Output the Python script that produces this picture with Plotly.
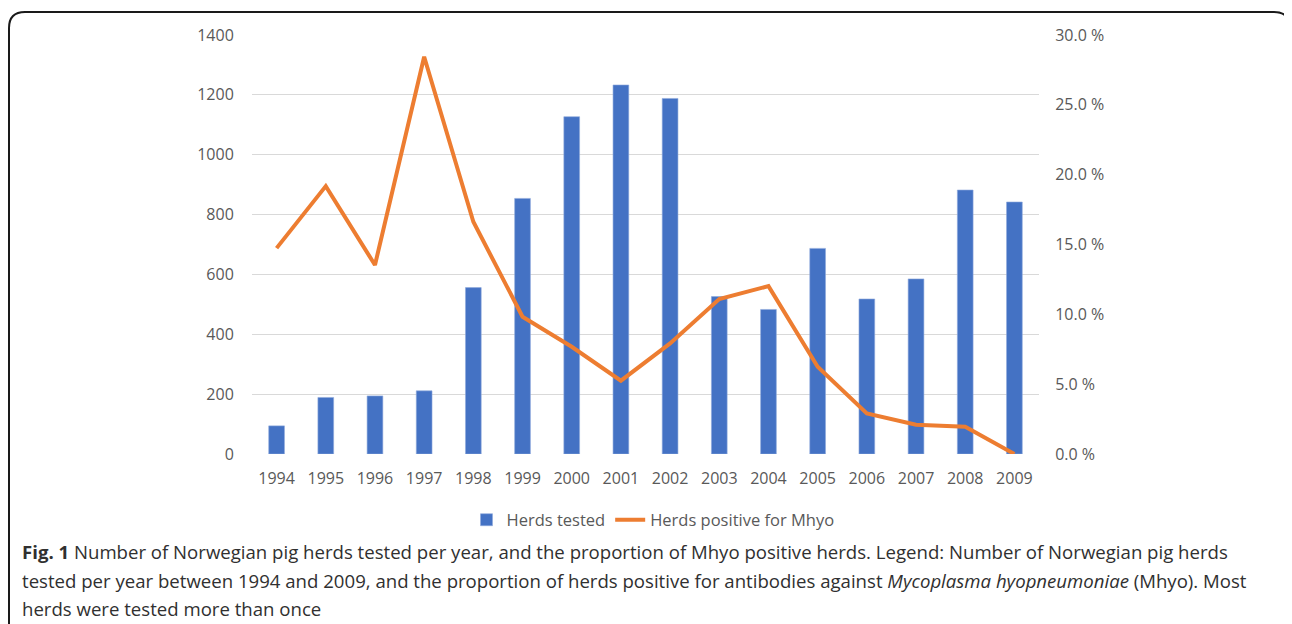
import plotly.graph_objects as go

years = ["1994", "1995", "1996", "1997", "1998", "1999", "2000", "2001",
         "2002", "2003", "2004", "2005", "2006", "2007", "2008", "2009"]
herds_tested = [94, 189, 194, 211, 556, 854, 1127, 1233,
                1188, 526, 483, 687, 518, 585, 882, 842]
pct_positive = [0.1474, 0.1918, 0.1353, 0.2844, 0.1663, 0.0983, 0.0768, 0.0525,
                0.0792, 0.1110, 0.1202, 0.0625, 0.0290, 0.0210, 0.0195, 0.0]
left_ticks = [0, 200, 400, 600, 800, 1000, 1200, 1400]
right_ticks = [0, 0.05, 0.10, 0.15, 0.20, 0.25, 0.30]
right_labels = ["0.0 %", "5.0 %", "10.0 %", "15.0 %", "20.0 %", "25.0 %", "30.0 %"]
caption_lines = [
    "<b>Fig. 1</b> Number of Norwegian pig herds tested per year, and the proportion of Mhyo positive herds. Legend: Number of Norwegian pig herds",
    "tested per year between 1994 and 2009, and the proportion of herds positive for antibodies against <i>Mycoplasma hyopneumoniae</i> (Mhyo). Most",
    "herds were tested more than once",
]

OFF = 8  # page body margin
W, H = 1292 - OFF, 624 - OFF
ML, MT = 252 - OFF, 35 - OFF
PR, PB = 1039 - OFF, 454 - OFF
MR, MB = W - PR, H - PB
PW, PH = PR - ML, PB - MT


def px(x):
    return (x - OFF - ML) / PW


def py(y):
    return (PB - (y - OFF)) / PH


fig = go.Figure()
fig.add_trace(go.Bar(x=years, y=herds_tested, name="Herds tested",
                     marker=dict(color="#4472C4", line=dict(width=0.6, color="#8EA9DB"))))
fig.add_trace(go.Scatter(x=years, y=pct_positive, name="Herds positive for Mhyo",
                         yaxis="y2", mode="lines",
                         line=dict(color="#ED7D31", width=4)))

# rounded frame
x0, x1, y0, y1, r = 9, 1290, 12, 660, 16
path = (f"M {px(x0)},{py(y0 + r)} "
        f"Q {px(x0)},{py(y0)} {px(x0 + r)},{py(y0)} "
        f"L {px(x1 - r)},{py(y0)} "
        f"Q {px(x1)},{py(y0)} {px(x1)},{py(y0 + r)} "
        f"L {px(x1)},{py(y1)} L {px(x0)},{py(y1)} Z")
shapes = [dict(type="path", xref="paper", yref="paper", path=path,
               line=dict(color="#1a1a1a", width=2), fillcolor="rgba(0,0,0,0)", layer="above")]

annotations = []
for line, yy in zip(caption_lines, [551, 580, 608]):
    annotations.append(dict(xref="paper", yref="paper", x=px(20), y=py(yy),
                            xanchor="left", yanchor="middle", text=line, showarrow=False,
                            align="left",
                            font=dict(family="Open Sans", size=18.6, color="#303030")))

fig.update_layout(
    width=W, height=H,
    margin=dict(l=ML, r=MR, t=MT, b=MB, pad=0),
    paper_bgcolor="white", plot_bgcolor="white",
    font=dict(family="Open Sans", size=16, color="#595959"),
    bargap=0.68,
    showlegend=True,
    legend=dict(orientation="h", x=px(653), xanchor="center", y=py(520), yanchor="middle",
                font=dict(size=16.5, color="#595959"), bgcolor="rgba(0,0,0,0)"),
    xaxis=dict(type="category", showgrid=False, zeroline=False, showline=False,
               ticks="outside", ticklen=10, tickcolor="rgba(0,0,0,0)",
               tickfont=dict(size=16, color="#595959")),
    yaxis=dict(range=[0, 1400], tickvals=left_ticks, showgrid=True, gridcolor="#D9D9D9",
               gridwidth=1, zeroline=False, showline=False,
               ticks="outside", ticklen=14, tickcolor="rgba(0,0,0,0)",
               tickfont=dict(size=16, color="#595959")),
    yaxis2=dict(range=[0, 0.30], overlaying="y", side="right", tickvals=right_ticks,
                ticktext=right_labels, showgrid=False, zeroline=False, showline=False,
                ticks="outside", ticklen=12, tickcolor="rgba(0,0,0,0)",
                tickfont=dict(size=16, color="#595959")),
    shapes=shapes,
    annotations=annotations,
)

fig.write_html("out.html")
